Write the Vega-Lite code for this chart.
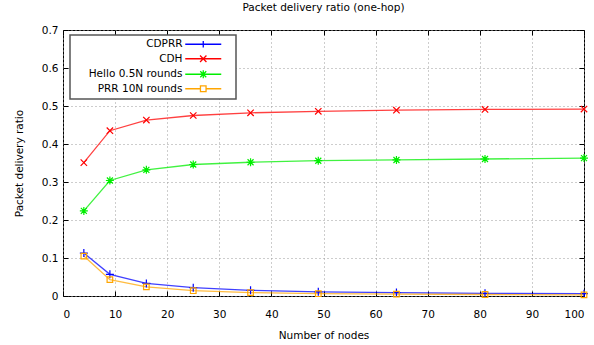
{
  "$schema": "https://vega.github.io/schema/vega-lite/v6.json",
  "width": 521,
  "height": 266,
  "autosize": {"type": "none"},
  "padding": {"left": 63, "top": 30, "right": 10, "bottom": 49},
  "background": "white",
  "title": {"text": "Packet delivery ratio (one-hop)", "font": "DejaVu Sans", "fontSize": 10.5, "fontWeight": "normal", "color": "#000", "offset": 12, "anchor": "middle", "frame": "group"},
  "data": {"values": [
    {"n": 4, "v": 0.113, "series": "CDPRR"},
    {"n": 9, "v": 0.057, "series": "CDPRR"},
    {"n": 16, "v": 0.033, "series": "CDPRR"},
    {"n": 25, "v": 0.022, "series": "CDPRR"},
    {"n": 36, "v": 0.015, "series": "CDPRR"},
    {"n": 49, "v": 0.011, "series": "CDPRR"},
    {"n": 64, "v": 0.009, "series": "CDPRR"},
    {"n": 81, "v": 0.007, "series": "CDPRR"},
    {"n": 100, "v": 0.006, "series": "CDPRR"},
    {"n": 4, "v": 0.351, "series": "CDH"},
    {"n": 9, "v": 0.435, "series": "CDH"},
    {"n": 16, "v": 0.463, "series": "CDH"},
    {"n": 25, "v": 0.475, "series": "CDH"},
    {"n": 36, "v": 0.482, "series": "CDH"},
    {"n": 49, "v": 0.486, "series": "CDH"},
    {"n": 64, "v": 0.489, "series": "CDH"},
    {"n": 81, "v": 0.491, "series": "CDH"},
    {"n": 100, "v": 0.492, "series": "CDH"},
    {"n": 4, "v": 0.224, "series": "Hello 0.5N rounds"},
    {"n": 9, "v": 0.304, "series": "Hello 0.5N rounds"},
    {"n": 16, "v": 0.332, "series": "Hello 0.5N rounds"},
    {"n": 25, "v": 0.346, "series": "Hello 0.5N rounds"},
    {"n": 36, "v": 0.352, "series": "Hello 0.5N rounds"},
    {"n": 49, "v": 0.356, "series": "Hello 0.5N rounds"},
    {"n": 64, "v": 0.358, "series": "Hello 0.5N rounds"},
    {"n": 81, "v": 0.3605, "series": "Hello 0.5N rounds"},
    {"n": 100, "v": 0.363, "series": "Hello 0.5N rounds"},
    {"n": 4, "v": 0.105, "series": "PRR 10N rounds"},
    {"n": 9, "v": 0.043, "series": "PRR 10N rounds"},
    {"n": 16, "v": 0.024, "series": "PRR 10N rounds"},
    {"n": 25, "v": 0.014, "series": "PRR 10N rounds"},
    {"n": 36, "v": 0.009, "series": "PRR 10N rounds"},
    {"n": 49, "v": 0.006, "series": "PRR 10N rounds"},
    {"n": 64, "v": 0.005, "series": "PRR 10N rounds"},
    {"n": 81, "v": 0.004, "series": "PRR 10N rounds"},
    {"n": 100, "v": 0.003, "series": "PRR 10N rounds"}
  ]},
  "config": {
    "view": {"stroke": "#000", "strokeWidth": 1},
    "axis": {
      "domain": false,
      "labelFont": "DejaVu Sans", "labelFontSize": 10.5, "labelColor": "#000",
      "titleFont": "DejaVu Sans", "titleFontSize": 10.5, "titleFontWeight": "normal", "titleColor": "#000",
      "tickColor": "#000", "tickWidth": 1,
      "gridColor": "#9a9a9a", "gridDash": [1, 3], "gridWidth": 1, "gridOpacity": 1
    }
  },
  "layer": [
    {
      "mark": {"type": "line", "strokeWidth": 1.3, "opacity": 0.75},
      "encoding": {
        "x": {"field": "n", "type": "quantitative", "scale": {"domain": [0, 100], "nice": false},
              "axis": {"orient": "bottom", "title": "Number of nodes", "values": [0,10,20,30,40,50,60,70,80,90,100], "ticks": false, "tickSize": 0, "labelPadding": 13, "titlePadding": 11}},
        "y": {"field": "v", "type": "quantitative", "scale": {"domain": [0, 0.7], "nice": false},
              "axis": {"orient": "left", "title": "Packet delivery ratio", "values": [0,0.1,0.2,0.3,0.4,0.5,0.6,0.7], "labelExpr": "datum.value == 0 ? '0' : format(datum.value, '.1f')", "ticks": false, "tickSize": 0, "labelPadding": 5, "titlePadding": 17}},
        "color": {"field": "series", "type": "nominal",
                  "scale": {"domain": ["CDPRR", "CDH", "Hello 0.5N rounds", "PRR 10N rounds"], "range": ["#0000ff", "#ff0000", "#00ee00", "#ffa500"]},
                  "legend": {
                    "title": null, "orient": "none", "legendX": 7, "legendY": 5,
                    "labelAlign": "right", "labelOffset": -26, "symbolOffset": 124,
                    "labelFont": "DejaVu Sans", "labelFontSize": 10.5, "labelColor": "#000",
                    "symbolSize": 64, "symbolStrokeWidth": 1.3, "symbolOpacity": 1, "rowPadding": 1.5, "padding": 4,
                    "strokeColor": "#555", "fillColor": "white",
                    "encoding": {
                      "legend": {"strokeWidth": {"value": 1.5}},
                      "symbols": {
                        "fill": {"value": "transparent"},
                        "shape": {"value": {"expr": "datum.value === 'CDPRR' ? 'M-4.5,0L4.5,0M0,-0.8L0,0.8M6.3,0' : datum.value === 'CDH' ? 'M-4.5,0L4.5,0M-0.8,-0.8L0.8,0.8M-0.8,0.8L0.8,-0.8M6.3,0' : datum.value === 'Hello 0.5N rounds' ? 'M-4.5,0L4.5,0M0,-1L0,1M-0.75,-0.75L0.75,0.75M-0.75,0.75L0.75,-0.75M6.3,0' : 'M-4.5,0L-0.7,0M0.7,0L4.5,0M-0.7,-0.7L0.7,-0.7L0.7,0.7L-0.7,0.7ZM6.3,0'"}}
                      }
                    }
                  }}
      }
    },
    {
      "mark": {"type": "point", "filled": false, "strokeWidth": 1.2, "size": 64, "opacity": 1},
      "encoding": {
        "x": {"field": "n", "type": "quantitative", "axis": null},
        "y": {"field": "v", "type": "quantitative", "axis": null},
        "color": {"field": "series", "type": "nominal"},
        "shape": {"field": "series", "type": "nominal", "legend": null,
                  "scale": {"domain": ["CDH", "CDPRR", "Hello 0.5N rounds", "PRR 10N rounds"],
                            "range": ["M-0.8,-0.8L0.8,0.8M-0.8,0.8L0.8,-0.8", "M-1,0L1,0M0,-1L0,1", "M-1,0L1,0M0,-1L0,1M-0.75,-0.75L0.75,0.75M-0.75,0.75L0.75,-0.75", "M-0.7,-0.7L0.7,-0.7L0.7,0.7L-0.7,0.7Z"]}}
      }
    },
    {
      "mark": {"type": "point", "opacity": 0},
      "encoding": {
        "x": {"field": "n", "type": "quantitative", "axis": {"orient": "bottom", "offset": -5, "tickSize": 5, "labels": false, "grid": false, "title": null, "values": [0,10,20,30,40,50,60,70,80,90,100]}},
        "y": {"field": "v", "type": "quantitative", "axis": {"orient": "left", "offset": -5, "tickSize": 5, "labels": false, "grid": false, "title": null, "values": [0,0.1,0.2,0.3,0.4,0.5,0.6,0.7]}}
      }
    },
    {
      "mark": {"type": "point", "opacity": 0},
      "encoding": {
        "x": {"field": "n", "type": "quantitative", "axis": {"orient": "top", "offset": -5, "tickSize": 5, "labels": false, "grid": false, "title": null, "values": [0,10,20,30,40,50,60,70,80,90,100]}},
        "y": {"field": "v", "type": "quantitative", "axis": {"orient": "right", "offset": -5, "tickSize": 5, "labels": false, "grid": false, "title": null, "values": [0,0.1,0.2,0.3,0.4,0.5,0.6,0.7]}}
      }
    }
  ],
  "resolve": {"axis": {"x": "independent", "y": "independent"}}
}
